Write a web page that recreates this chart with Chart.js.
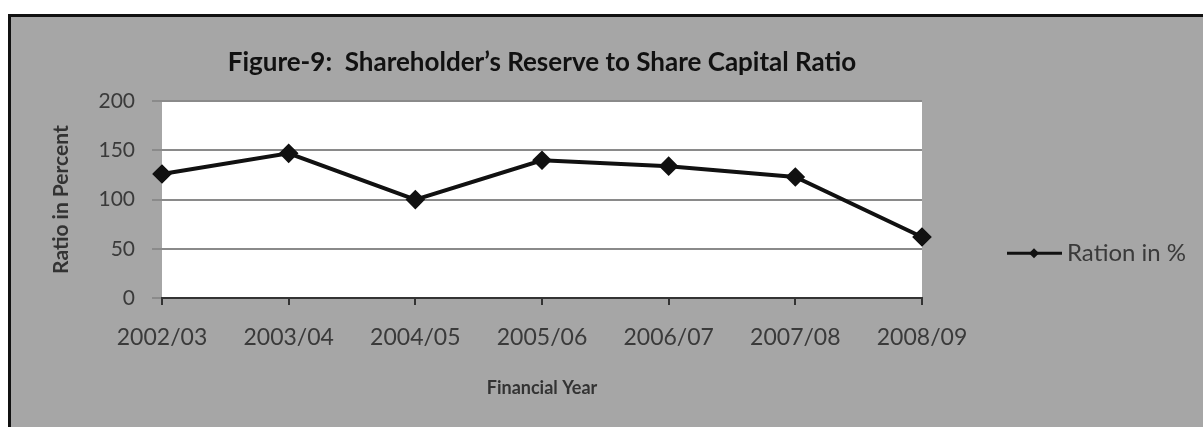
<!DOCTYPE html>
<html>
<head>
<meta charset="utf-8">
<script src="https://cdn.jsdelivr.net/npm/chart.js@4.4.0/dist/chart.umd.min.js"></script>
<style>
  html, body { margin: 0; padding: 0; background: #ffffff; overflow: hidden; }
  #frame {
    position: absolute; left: 8px; top: 14px; width: 1300px; height: 500px;
    background: #a6a6a6; border-left: 3px solid #111; border-top: 3px solid #111;
  }
  #wrap { position: absolute; left: 0; top: 0; width: 1203px; height: 427px; }
</style>
</head>
<body>
<div id="frame"></div>
<div id="wrap"><canvas id="graficoRatio"></canvas></div>
<script>
const anos = ["2002/03", "2003/04", "2004/05", "2005/06", "2006/07", "2007/08", "2008/09"];
const ratio = [126, 147, 100, 140, 134, 123, 62];
const ticksY = [0, 50, 100, 150, 200];

const fonte = "Lato, 'Open Sans', sans-serif";

// fundo branco só na área do gráfico
const fundoArea = {
  id: "fundoArea",
  beforeDraw(chart) {
    const a = chart.chartArea;
    const ctx = chart.ctx;
    ctx.save();
    ctx.fillStyle = "#ffffff";
    ctx.fillRect(a.left, a.top, a.right - a.left, a.bottom - a.top);
    ctx.restore();
  }
};

// legenda com linha + losango, à direita
const legenda = {
  id: "legenda",
  afterDraw(chart) {
    const ctx = chart.ctx;
    const a = chart.chartArea;
    const ds = chart.data.datasets[0];
    const x0 = a.right + 85;
    const y = a.top + 152;
    ctx.save();
    ctx.strokeStyle = ds.borderColor;
    ctx.lineWidth = 3;
    ctx.beginPath();
    ctx.moveTo(x0, y);
    ctx.lineTo(x0 + 55, y);
    ctx.stroke();
    ctx.fillStyle = ds.borderColor;
    ctx.beginPath();
    ctx.moveTo(x0 + 27, y - 5);
    ctx.lineTo(x0 + 32, y);
    ctx.lineTo(x0 + 27, y + 5);
    ctx.lineTo(x0 + 22, y);
    ctx.closePath();
    ctx.fill();
    ctx.fillStyle = "#3a3a3a";
    ctx.font = "24px " + fonte;
    ctx.textBaseline = "middle";
    ctx.fillText(ds.label, x0 + 60, y);
    ctx.restore();
  }
};

const ctx = document.getElementById("graficoRatio");

new Chart(ctx, {
  type: "line",
  data: {
    labels: anos,
    datasets: [{
      label: "Ration in %",
      data: ratio,
      borderColor: "#111111",
      backgroundColor: "#111111",
      borderWidth: 4,
      pointStyle: "rectRot",
      pointRadius: 7,
      pointHoverRadius: 7,
      tension: 0,
      fill: false
    }]
  },
  options: {
    responsive: true,
    maintainAspectRatio: false,
    animation: false,
    layout: { padding: { left: 0, right: 281, top: 0, bottom: 0 } },
    plugins: {
      legend: { display: false },
      tooltip: { enabled: false },
      title: {
        display: true,
        fullSize: false,
        text: "Figure-9:  Shareholder\u2019s Reserve to Share Capital Ratio",
        color: "#111111",
        font: { family: fonte, size: 26, weight: "bold" },
        padding: { top: 47, bottom: 23 }
      }
    },
    scales: {
      x: {
        offset: false,
        grid: { drawOnChartArea: false, drawTicks: true, tickLength: 7, tickColor: "#333333", lineWidth: 2 },
        border: { display: true, color: "#333333", width: 2 },
        ticks: { color: "#3a3a3a", font: { family: fonte, size: 23 }, padding: 19, maxRotation: 0 },
        title: {
          display: true,
          text: "Financial Year",
          color: "#333333",
          font: { family: fonte, size: 18, weight: "bold" },
          padding: { top: 0, bottom: 28 }
        },
        afterFit(s) { s.height = 129; }
      },
      y: {
        min: 0,
        max: 200,
        afterBuildTicks(s) { s.ticks = ticksY.map(v => ({ value: v })); },
        grid: { color: "#8a8a8a", lineWidth: 2, tickLength: 10, tickColor: "#8a8a8a" },
        border: { display: false },
        ticks: { color: "#3a3a3a", font: { family: fonte, size: 21 }, padding: 17 },
        title: {
          display: true,
          text: "Ratio in Percent",
          color: "#333333",
          font: { family: fonte, size: 21, weight: "bold" },
          padding: { top: 49, bottom: 0 }
        },
        afterFit(s) { s.width = 162; }
      }
    }
  },
  plugins: [fundoArea, legenda]
});
</script>
</body>
</html>
